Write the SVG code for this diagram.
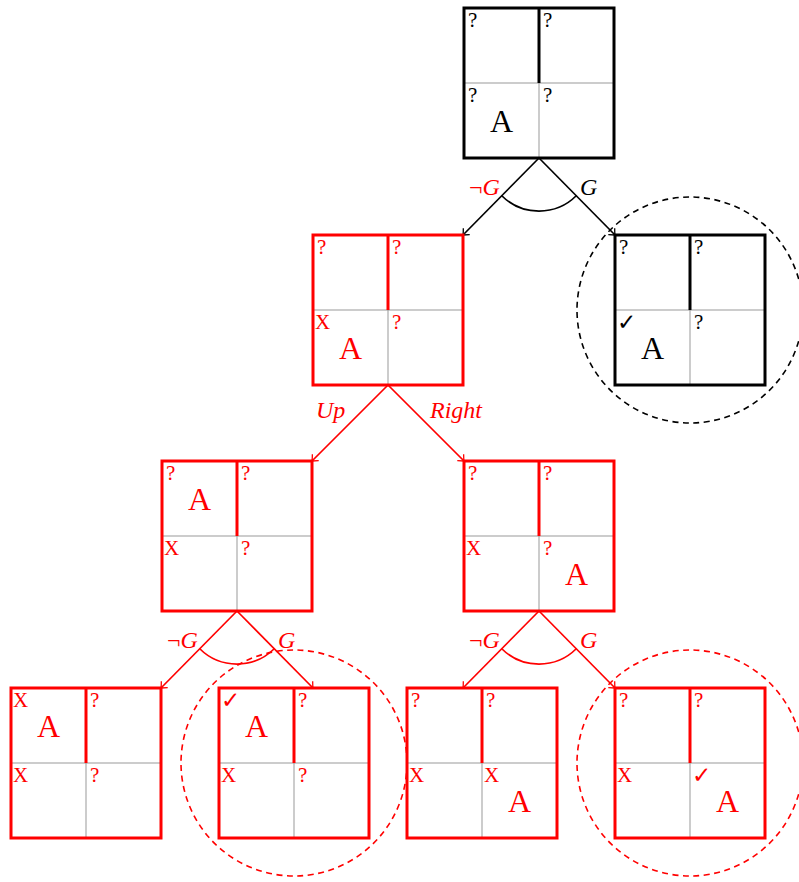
<svg xmlns="http://www.w3.org/2000/svg" width="799" height="882" viewBox="0 0 799 882">
<style>
.bg{fill:#fff}
.grid{stroke:#999;stroke-width:1;fill:none}
.box{fill:none;stroke-width:3}
.k{stroke:#000}
.r{stroke:#f00}
.tk{fill:#000}
.tr{fill:#f00}
.s{font-family:"Liberation Serif",serif;font-size:21px}
.a{font-family:"Liberation Serif",serif;font-size:32px;text-anchor:middle}
.c{font-family:"DejaVu Sans",sans-serif;font-size:23px}
.lab{font-family:"Liberation Serif",serif;font-size:24px;font-style:italic}
.edge{fill:none;stroke-width:1.7}
.circ{fill:none;stroke-width:1.6;stroke-dasharray:6 4.5}
</style>
<defs>
<marker id="ak" viewBox="-6 -6 8 12" markerWidth="8" markerHeight="12" refX="0" refY="0" orient="auto" markerUnits="userSpaceOnUse">
<path d="M-5,-4.5 Q-1.5,-1 0,0 Q-1.5,1 -5,4.5" fill="none" stroke="#000" stroke-width="1.3"/>
</marker>
<marker id="ar" viewBox="-6 -6 8 12" markerWidth="8" markerHeight="12" refX="0" refY="0" orient="auto" markerUnits="userSpaceOnUse">
<path d="M-5,-4.5 Q-1.5,-1 0,0 Q-1.5,1 -5,4.5" fill="none" stroke="#f00" stroke-width="1.3"/>
</marker>
<g id="gridlines">
<line class="grid" x1="0" y1="75" x2="150" y2="75"/>
<line class="grid" x1="75" y1="75" x2="75" y2="150"/>
</g>
</defs>
<rect class="bg" x="0" y="0" width="799" height="882"/>

<g id="connectors">
<line class="edge k" x1="539" y1="158" x2="463" y2="235" marker-end="url(#ak)"/>
<line class="edge k" x1="539" y1="158" x2="615" y2="235" marker-end="url(#ak)"/>
<path class="edge k" d="M501.5,195.5 A53,53 0 0 0 576.5,195.5"/>
<text class="lab" x="469" y="195"><tspan fill="#f00" font-style="normal">¬</tspan><tspan fill="#f00">G</tspan></text>
<text class="lab tk" x="580" y="195">G</text>

<line class="edge r" x1="388" y1="385" x2="312" y2="461" marker-end="url(#ar)"/>
<line class="edge r" x1="388" y1="385" x2="464" y2="461" marker-end="url(#ar)"/>
<text class="lab tr" x="316" y="418">Up</text>
<text class="lab tr" x="430" y="418">Right</text>

<line class="edge r" x1="237" y1="611" x2="161" y2="688" marker-end="url(#ar)"/>
<line class="edge r" x1="237" y1="611" x2="313" y2="688" marker-end="url(#ar)"/>
<path class="edge r" d="M199.5,648.5 A53,53 0 0 0 274.5,648.5"/>
<text class="lab tr" x="167" y="648"><tspan font-style="normal">¬</tspan>G</text>
<text class="lab tr" x="278" y="648">G</text>

<line class="edge r" x1="539" y1="611" x2="463" y2="688" marker-end="url(#ar)"/>
<line class="edge r" x1="539" y1="611" x2="615" y2="688" marker-end="url(#ar)"/>
<path class="edge r" d="M501.5,648.5 A53,53 0 0 0 576.5,648.5"/>
<text class="lab tr" x="469" y="648"><tspan font-style="normal">¬</tspan>G</text>
<text class="lab tr" x="580" y="648">G</text>
</g>

<g id="root" transform="translate(464,8)">
<use href="#gridlines"/>
<rect class="box k" x="0" y="0" width="150" height="150"/>
<line class="box k" x1="75" y1="0" x2="75" y2="75"/>
<text class="s tk" x="4" y="19">?</text>
<text class="s tk" x="79" y="19">?</text>
<text class="s tk" x="4" y="94">?</text>
<text class="a tk" x="37.5" y="124">A</text>
<text class="s tk" x="79" y="94">?</text>
</g>

<g id="l1-left" transform="translate(313,235)">
<use href="#gridlines"/>
<rect class="box r" x="0" y="0" width="150" height="150"/>
<line class="box r" x1="75" y1="0" x2="75" y2="75"/>
<text class="s tr" x="4" y="19">?</text>
<text class="s tr" x="79" y="19">?</text>
<text class="s tr" x="2" y="94">X</text>
<text class="a tr" x="37.5" y="124">A</text>
<text class="s tr" x="79" y="94">?</text>
</g>

<g id="l1-right" transform="translate(615,235)">
<circle class="circ k" cx="75" cy="75" r="113"/>
<use href="#gridlines"/>
<rect class="box k" x="0" y="0" width="150" height="150"/>
<line class="box k" x1="75" y1="0" x2="75" y2="75"/>
<text class="s tk" x="4" y="19">?</text>
<text class="s tk" x="79" y="19">?</text>
<text class="c tk" x="2" y="95">✓</text>
<text class="a tk" x="37.5" y="124">A</text>
<text class="s tk" x="79" y="94">?</text>
</g>

<g id="l2-left" transform="translate(162,461)">
<use href="#gridlines"/>
<rect class="box r" x="0" y="0" width="150" height="150"/>
<line class="box r" x1="75" y1="0" x2="75" y2="75"/>
<text class="s tr" x="4" y="19">?</text>
<text class="a tr" x="37.5" y="49">A</text>
<text class="s tr" x="79" y="19">?</text>
<text class="s tr" x="2" y="94">X</text>
<text class="s tr" x="79" y="94">?</text>
</g>

<g id="l2-right" transform="translate(464,461)">
<use href="#gridlines"/>
<rect class="box r" x="0" y="0" width="150" height="150"/>
<line class="box r" x1="75" y1="0" x2="75" y2="75"/>
<text class="s tr" x="4" y="19">?</text>
<text class="s tr" x="79" y="19">?</text>
<text class="s tr" x="2" y="94">X</text>
<text class="s tr" x="79" y="94">?</text>
<text class="a tr" x="112.5" y="124">A</text>
</g>

<g id="l3-a" transform="translate(11,688)">
<use href="#gridlines"/>
<rect class="box r" x="0" y="0" width="150" height="150"/>
<line class="box r" x1="75" y1="0" x2="75" y2="75"/>
<text class="s tr" x="2" y="19">X</text>
<text class="a tr" x="37.5" y="49">A</text>
<text class="s tr" x="79" y="19">?</text>
<text class="s tr" x="2" y="94">X</text>
<text class="s tr" x="79" y="94">?</text>
</g>

<g id="l3-b" transform="translate(219,688)">
<circle class="circ r" cx="75" cy="75" r="113"/>
<use href="#gridlines"/>
<rect class="box r" x="0" y="0" width="150" height="150"/>
<line class="box r" x1="75" y1="0" x2="75" y2="75"/>
<text class="c tr" x="2" y="20">✓</text>
<text class="a tr" x="37.5" y="49">A</text>
<text class="s tr" x="79" y="19">?</text>
<text class="s tr" x="2" y="94">X</text>
<text class="s tr" x="79" y="94">?</text>
</g>

<g id="l3-c" transform="translate(407,688)">
<use href="#gridlines"/>
<rect class="box r" x="0" y="0" width="150" height="150"/>
<line class="box r" x1="75" y1="0" x2="75" y2="75"/>
<text class="s tr" x="4" y="19">?</text>
<text class="s tr" x="79" y="19">?</text>
<text class="s tr" x="2" y="94">X</text>
<text class="s tr" x="77" y="94">X</text>
<text class="a tr" x="112.5" y="124">A</text>
</g>

<g id="l3-d" transform="translate(615,688)">
<circle class="circ r" cx="75" cy="75" r="113"/>
<use href="#gridlines"/>
<rect class="box r" x="0" y="0" width="150" height="150"/>
<line class="box r" x1="75" y1="0" x2="75" y2="75"/>
<text class="s tr" x="4" y="19">?</text>
<text class="s tr" x="79" y="19">?</text>
<text class="s tr" x="2" y="94">X</text>
<text class="c tr" x="77" y="95">✓</text>
<text class="a tr" x="112.5" y="124">A</text>
</g>
</svg>
